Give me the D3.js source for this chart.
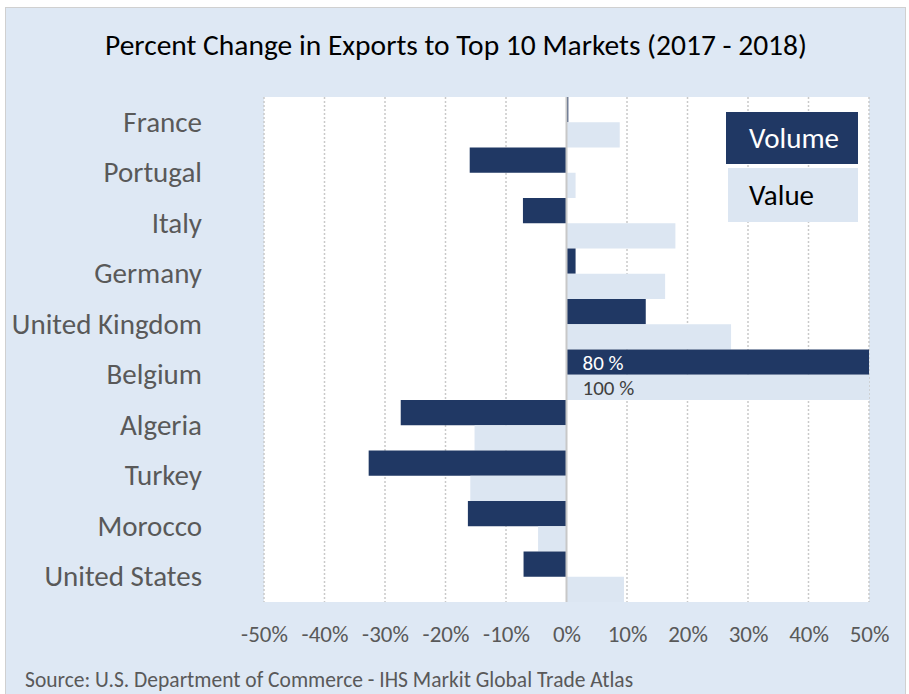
<!DOCTYPE html>
<html>
<head>
<meta charset="utf-8">
<script src="https://cdn.jsdelivr.net/npm/d3@7"></script>
<style>
  body { margin: 0; background: #fff; }
  svg text { font-family: Carlito, Calibri, Lato, "Open Sans", sans-serif; }
</style>
</head>
<body>
<svg id="chart" width="909" height="694"></svg>
<script>
// data (percent change 2017 - 2018)
var categories = ["France", "Portugal", "Italy", "Germany", "United Kingdom",
  "Belgium", "Algeria", "Turkey", "Morocco", "United States"];
var volume = [0.3, -16.0, -7.2, 1.5, 13.1, 80, -27.4, -32.7, -16.3, -7.1];
var value = [8.8, 1.5, 18.0, 16.3, 27.2, 100, -15.2, -15.9, -4.7, 9.5];
var ticks = [-50, -40, -30, -20, -10, 0, 10, 20, 30, 40, 50];
var seriesNames = ["Volume", "Value"];

var volColor = "#203864",
  valColor = "#dce6f2",
  bg = "#dee8f4";

var svg = d3.select("#chart");

// outer panel
svg.append("rect")
  .attr("x", 5.5).attr("y", 7.5)
  .attr("width", 900).attr("height", 690)
  .attr("fill", bg)
  .attr("stroke", "#d0d0d0");

var margin = { top: 97, left: 264, right: 40, bottom: 92 };
var width = 909 - margin.left - margin.right,
  height = 694 - margin.top - margin.bottom;

var g = svg.append("g")
  .attr("transform", "translate(" + margin.left + "," + margin.top + ")");

var x = d3.scaleLinear().domain([-50, 50]).range([0, width]);
var y = d3.scaleBand().domain(categories).range([0, height]).padding(0);
var sub = d3.scaleBand().domain(seriesNames).range([0, y.bandwidth()]);

// plot area
g.append("rect")
  .attr("width", width).attr("height", height)
  .attr("fill", "#fff");

// dotted gridlines
g.selectAll(".grid")
  .data(ticks.filter(function (d) { return d !== 0; }))
  .enter()
  .append("line")
  .attr("x1", function (d) { return x(d); })
  .attr("x2", function (d) { return x(d); })
  .attr("y1", 0).attr("y2", height)
  .attr("stroke", "#c9c9c9")
  .attr("stroke-width", 1.5)
  .attr("stroke-dasharray", "2,2");

var clamp = function (v) { return Math.max(-50, Math.min(50, v)); };

var rows = categories.map(function (c, i) {
  return [
    { cat: c, key: "Volume", v: volume[i] },
    { cat: c, key: "Value", v: value[i] }
  ];
});

var bars = g.selectAll(".row")
  .data(rows)
  .enter()
  .append("g")
  .attr("transform", function (d) { return "translate(0," + y(d[0].cat) + ")"; });

bars.selectAll("rect")
  .data(function (d) { return d; })
  .enter()
  .append("rect")
  .attr("x", function (d) { return x(Math.min(0, clamp(d.v))); })
  .attr("y", function (d) { return sub(d.key); })
  .attr("width", function (d) { return Math.abs(x(clamp(d.v)) - x(0)); })
  .attr("height", sub.bandwidth())
  .attr("fill", function (d) { return d.key === "Volume" ? volColor : valColor; });

// labels for bars running past the axis
bars.selectAll(".lbl")
  .data(function (d) { return d.filter(function (e) { return Math.abs(e.v) > 50; }); })
  .enter()
  .append("text")
  .attr("x", x(0) + 16)
  .attr("y", function (d) { return sub(d.key) + sub.bandwidth() / 2; })
  .attr("dy", "0.36em")
  .attr("font-size", 21)
  .attr("fill", function (d) { return d.key === "Volume" ? "#fff" : "#404040"; })
  .text(function (d) { return d.v + " %"; });

// zero line
g.append("line")
  .attr("x1", x(0)).attr("x2", x(0))
  .attr("y1", 0).attr("y2", height)
  .attr("stroke", "#c8c8c8")
  .attr("stroke-width", 2);

// category labels
var yAxis = g.append("g")
  .call(d3.axisLeft(y).tickSize(0).tickPadding(62));
yAxis.select(".domain").remove();
yAxis.selectAll("text")
  .attr("font-size", 29)
  .attr("fill", "#595959");

// x tick labels
var xAxis = g.append("g")
  .attr("transform", "translate(0," + height + ")")
  .call(d3.axisBottom(x).tickValues(ticks).tickSize(0).tickPadding(24)
    .tickFormat(function (d) { return d + "%"; }));
xAxis.select(".domain").remove();
xAxis.selectAll("text")
  .attr("font-size", 23)
  .attr("fill", "#595959");

// legend
var legend = svg.append("g").attr("transform", "translate(726,112)");
var legRows = [
  { name: "Volume", y: 0, h: 52, fill: volColor, text: "#fff" },
  { name: "Value", y: 56, h: 54, fill: valColor, text: "#000" }
];
legend.selectAll("rect")
  .data(legRows)
  .enter()
  .append("rect")
  .attr("x", function (d, i) { return i ? 2 : 0; })
  .attr("y", function (d) { return d.y; })
  .attr("width", function (d, i) { return i ? 130 : 132; })
  .attr("height", function (d) { return d.h; })
  .attr("fill", function (d) { return d.fill; });
legend.selectAll("text")
  .data(legRows)
  .enter()
  .append("text")
  .attr("x", 23)
  .attr("y", function (d) { return d.y + d.h / 2; })
  .attr("dy", "0.36em")
  .attr("font-size", 29)
  .attr("fill", function (d) { return d.text; })
  .text(function (d) { return d.name; });

// title
svg.append("text")
  .attr("x", 456).attr("y", 44)
  .attr("dy", "0.36em")
  .attr("text-anchor", "middle")
  .attr("font-size", 29.5)
  .attr("fill", "#000")
  .text("Percent Change in Exports to Top 10  Markets (2017  - 2018)");

// source
svg.append("text")
  .attr("x", 25).attr("y", 679)
  .attr("dy", "0.36em")
  .attr("font-size", 21.5)
  .attr("fill", "#595959")
  .text("Source: U.S. Department of Commerce - IHS Markit Global Trade Atlas");
</script>
</body>
</html>
